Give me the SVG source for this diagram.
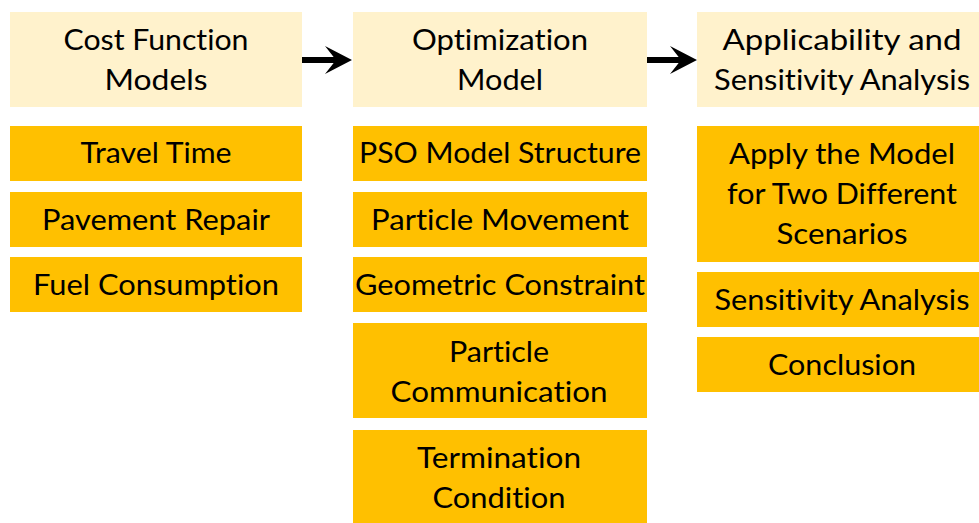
<svg xmlns="http://www.w3.org/2000/svg" width="979" height="523" viewBox="0 0 979 523">
<style>
.h{fill:#FFF2CC}
.s{fill:#FFC000}
text{font-family:Lato,"Liberation Sans",sans-serif;font-size:29px;fill:#000;text-anchor:middle;font-variant-ligatures:none}
.ln{stroke:#000;stroke-width:6;fill:none}
.ah{fill:#000}
</style>
<rect width="979" height="523" fill="#fff"/>
<g id="connectors">
<line class="ln" x1="302" y1="60" x2="336" y2="60"/>
<path class="ah" d="M352,60 L325,46 L336,60 L325,74 Z"/>
<line class="ln" x1="647" y1="60" x2="681" y2="60"/>
<path class="ah" d="M697,60 L670,46 L681,60 L670,74 Z"/>
</g>
<g id="cost-function-models"><rect class="h" x="10" y="12" width="292" height="95"/>
<text x="156" y="50" textLength="185" lengthAdjust="spacingAndGlyphs">Cost Function</text>
<text x="156" y="90" textLength="103" lengthAdjust="spacingAndGlyphs">Models</text></g>
<g id="travel-time"><rect class="s" x="10" y="126" width="292" height="55"/>
<text x="156" y="163" textLength="151" lengthAdjust="spacingAndGlyphs">Travel Time</text></g>
<g id="pavement-repair"><rect class="s" x="10" y="192" width="292" height="55"/>
<text x="156" y="230" textLength="228" lengthAdjust="spacingAndGlyphs">Pavement Repair</text></g>
<g id="fuel-consumption"><rect class="s" x="10" y="257" width="292" height="55"/>
<text x="156" y="295" textLength="246" lengthAdjust="spacingAndGlyphs">Fuel Consumption</text></g>
<g id="optimization-model"><rect class="h" x="353" y="12" width="294" height="95"/>
<text x="500" y="50" textLength="176" lengthAdjust="spacingAndGlyphs">Optimization</text>
<text x="500" y="90" textLength="86" lengthAdjust="spacingAndGlyphs">Model</text></g>
<g id="pso-model-structure"><rect class="s" x="353" y="126" width="294" height="55"/>
<text x="500" y="163" textLength="282" lengthAdjust="spacingAndGlyphs">PSO Model Structure</text></g>
<g id="particle-movement"><rect class="s" x="353" y="192" width="294" height="55"/>
<text x="500" y="230" textLength="258" lengthAdjust="spacingAndGlyphs">Particle Movement</text></g>
<g id="geometric-constraint"><rect class="s" x="353" y="257" width="294" height="55"/>
<text x="500" y="295" textLength="290" lengthAdjust="spacingAndGlyphs">Geometric Constraint</text></g>
<g id="particle-communication"><rect class="s" x="353" y="323" width="294" height="95"/>
<text x="499" y="362" textLength="100" lengthAdjust="spacingAndGlyphs">Particle</text>
<text x="499" y="402" textLength="217" lengthAdjust="spacingAndGlyphs">Communication</text></g>
<g id="termination-condition"><rect class="s" x="353" y="430" width="294" height="93"/>
<text x="499" y="468" textLength="164" lengthAdjust="spacingAndGlyphs">Termination</text>
<text x="499" y="508" textLength="133" lengthAdjust="spacingAndGlyphs">Condition</text></g>
<g id="applicability-sensitivity"><rect class="h" x="697" y="12" width="292" height="95"/>
<text x="842" y="50" textLength="239" lengthAdjust="spacingAndGlyphs">Applicability and</text>
<text x="842" y="90" textLength="256" lengthAdjust="spacingAndGlyphs">Sensitivity Analysis</text></g>
<g id="apply-model"><rect class="s" x="697" y="126" width="292" height="136"/>
<text x="842" y="164" textLength="226" lengthAdjust="spacingAndGlyphs">Apply the Model</text>
<text x="842" y="204" textLength="230" lengthAdjust="spacingAndGlyphs">for Two Different</text>
<text x="842" y="244" textLength="131" lengthAdjust="spacingAndGlyphs">Scenarios</text></g>
<g id="sensitivity-analysis"><rect class="s" x="697" y="272" width="292" height="55"/>
<text x="842" y="310" textLength="255" lengthAdjust="spacingAndGlyphs">Sensitivity Analysis</text></g>
<g id="conclusion"><rect class="s" x="697" y="337" width="292" height="55"/>
<text x="842" y="375" textLength="148" lengthAdjust="spacingAndGlyphs">Conclusion</text></g>
</svg>
